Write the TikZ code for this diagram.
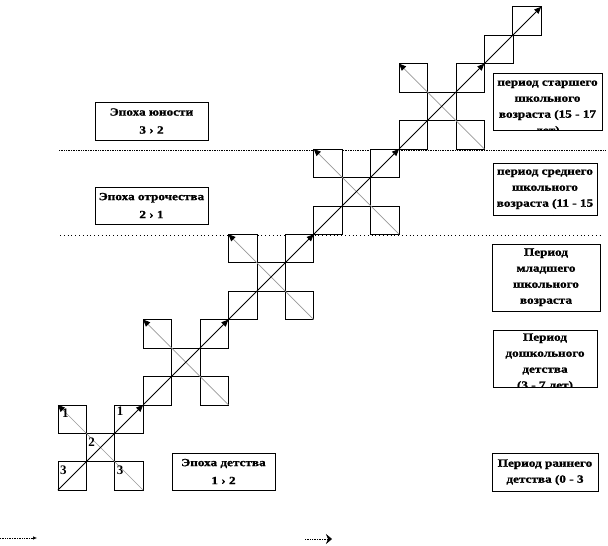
\documentclass[tikz,border=0pt]{standalone}
\usepackage{fontspec}
\setmainfont{Liberation Serif}
\newfontfamily\bxf[FakeStretch=1.2,FakeBold=1.2]{Liberation Serif}
\usetikzlibrary{arrows.meta}
\begin{document}
\begin{tikzpicture}[x=1pt,y=-1pt,
  sq/.style={draw=black, line width=0.6pt, fill=white, minimum size=28.43pt, inner sep=0pt, outer sep=0pt},
  diag/.style={line width=0.8pt, black, -{Triangle[length=7pt,width=6pt]}},
  anti/.style={line width=0.7pt, black!40, -{Triangle[length=7pt,width=6pt,color=black]}},
  sepa/.style={line width=0.6pt, dash pattern=on 0.6pt off 1.1pt},
  sepb/.style={line width=0.6pt, dash pattern=on 0.8pt off 3pt},
  num/.style={font=\bfseries\fontsize{13}{13}\selectfont, inner sep=0pt, anchor=north west},
  lbox/.style={draw=black, line width=0.6pt, fill=white, inner sep=0pt, align=center,
    font=\bxf\bfseries\fontsize{11}{18}\selectfont},
  rbox/.style={draw=black, line width=0.6pt, fill=white, inner sep=0pt},
  rtext/.style={inner sep=0pt, anchor=base, font=\bxf\bfseries\fontsize{11}{16}\selectfont},
  bot/.style={line width=0.6pt, dash pattern=on 0.6pt off 1.1pt}
]
\useasboundingbox (0,0) rectangle (608,546);
% dotted separators
\coordinate (h1a) at (59,150); \coordinate (h1b) at (605,150);
\coordinate (h2a) at (60,235.5); \coordinate (h2b) at (602,235.5);
\draw[sepa] (h1a) -- (h1b);
\draw[sepb] (h2a) -- (h2b);
% crosses
\foreach \k in {0,...,4}{
  \pgfmathsetmacro\cx{100.5+85.3*\k}
  \pgfmathsetmacro\cy{447.5-85.3*\k}
  \node[sq] (c\k-c) at (\cx,\cy) {};
  \node[sq] (c\k-tl) at (\cx-28.43,\cy-28.43) {};
  \node[sq] (c\k-tr) at (\cx+28.43,\cy-28.43) {};
  \node[sq] (c\k-bl) at (\cx-28.43,\cy+28.43) {};
  \node[sq] (c\k-br) at (\cx+28.43,\cy+28.43) {};
}
\node[sq] (e1) at (498.6,49.4) {};
\node[sq] (e2) at (527.0,21.0) {};
\foreach \k in {0,...,4}{
  \draw[anti] (c\k-br.south east) -- (c\k-tl.north west);
  \draw[diag] (c\k-bl.south west) -- (c\k-tr.north east);
}
\draw[diag] (c4-tr.north east) -- (e2.north east);
% numbers
\node[num] (n1) at ([shift={(4pt,-4pt)}]c0-tl.north west) {1};
\node[num] (n2) at ([shift={(2pt,-2pt)}]c0-tr.north west) {1};
\node[num] (n3) at ([shift={(2pt,-4pt)}]c0-c.north west) {2};
\node[num] (n4) at ([shift={(2pt,-4pt)}]c0-bl.north west) {3};
\node[num] (n5) at ([shift={(2pt,-4pt)}]c0-br.north west) {3};
% left boxes
\node[lbox, minimum width=113pt, minimum height=38pt] (L3) at (151.5,121) {Эпоха юности\\3 › 2};
\node[lbox, minimum width=113pt, minimum height=37pt] (L2) at (151.5,205.5) {Эпоха отрочества\\2 › 1};
\node[lbox, minimum width=103pt, minimum height=37pt] (L1) at (223.5,471.5) {Эпоха детства\\1 › 2};
% right boxes
\node[rbox, minimum width=109pt, minimum height=57pt] (r5) at (547.5,101.5) {};
\node[rbox, minimum width=104pt, minimum height=52pt] (r4) at (545,189) {};
\node[rbox, minimum width=108pt, minimum height=67pt] (r3) at (546,277.5) {};
\node[rbox, minimum width=104pt, minimum height=57pt] (r2) at (545,358.5) {};
\node[rbox, minimum width=106pt, minimum height=38pt] (r1) at (545,472) {};
\begin{scope}
  \clip (r5.south west) rectangle (r5.north east);
  \node[rtext] (t5) at ([yshift=-13pt]r5.north) {\parbox[t]{108pt}{\centering период старшего\\школьного\\возраста (15 - 17\\лет)}};
\end{scope}
\begin{scope}
  \clip (r4.south west) rectangle (r4.north east);
  \node[rtext] (t4) at ([yshift=-12pt]r4.north) {\parbox[t]{104pt}{\centering период среднего\\школьного\\возраста (11 - 15\\лет)}};
\end{scope}
\begin{scope}
  \clip (r3.south west) rectangle (r3.north east);
  \node[rtext] (t3) at ([yshift=-12pt]r3.north) {\parbox[t]{108pt}{\centering Период\\младшего\\школьного\\возраста}};
\end{scope}
\begin{scope}
  \clip (r2.south west) rectangle (r2.north east);
  \node[rtext] (t2) at ([yshift=-11pt]r2.north) {\parbox[t]{104pt}{\centering Период\\дошкольного\\детства\\(3 - 7 лет)}};
\end{scope}
\begin{scope}
  \clip (r1.south west) rectangle (r1.north east);
  \node[rtext] (t1) at ([yshift=-14pt]r1.north) {\parbox[t]{106pt}{\centering Период раннего\\детства  (0 - 3\\лет)}};
\end{scope}
% bottom arrows
\coordinate (b1a) at (0,538); \coordinate (b1b) at (37,538);
\coordinate (b2a) at (305,539); \coordinate (b2b) at (332,539);
\draw[bot, -{Latex[length=4pt,width=3.5pt]}] (b1a) -- (b1b);
\draw[bot, -{Stealth[length=6pt,width=10pt,inset=2pt]}] (b2a) -- (b2b);
\end{tikzpicture}
\end{document}
